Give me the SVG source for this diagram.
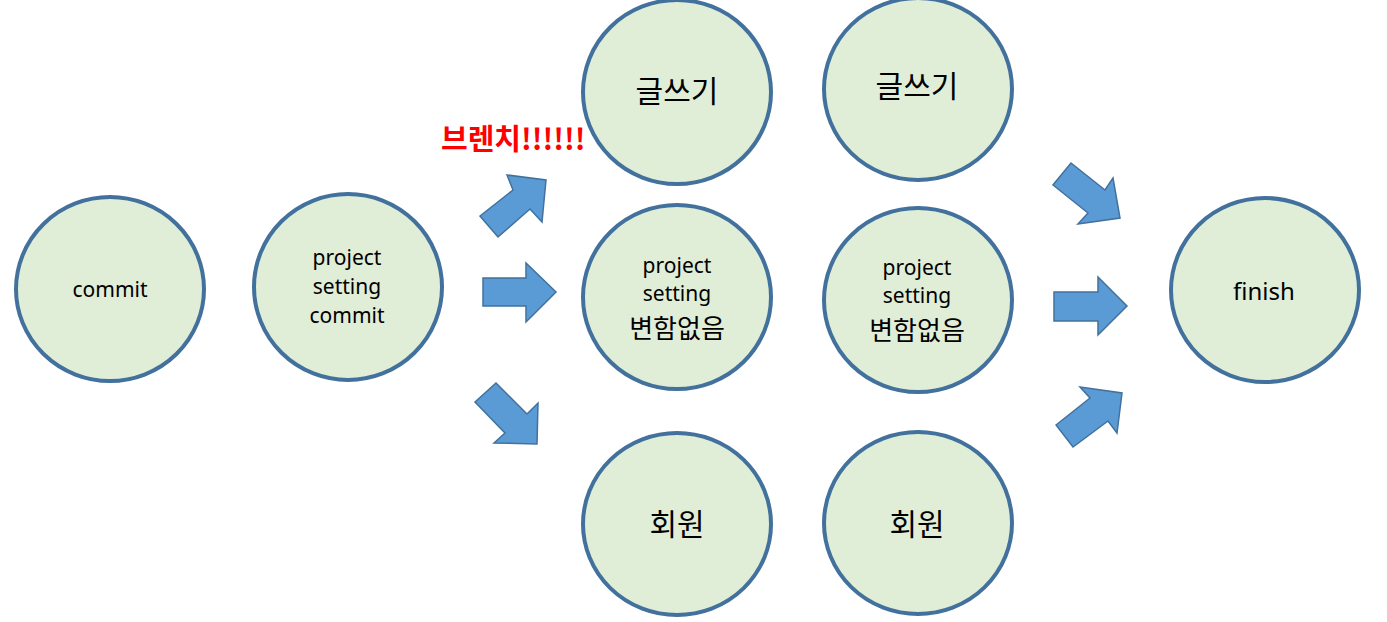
<svg xmlns="http://www.w3.org/2000/svg" width="1387" height="622" viewBox="0 0 1387 622">
<style>
.n{fill:#e0edd7;stroke:#41719c;stroke-width:4}
.t{font-family:"Noto Sans","Noto Sans CJK KR",sans-serif;font-size:21px;fill:#000;text-anchor:middle}
.k{font-family:"Noto Sans CJK KR","Noto Sans",sans-serif;font-size:30px;fill:#000;text-anchor:middle}
.k2{font-family:"Noto Sans CJK KR","Noto Sans",sans-serif;font-size:26px;fill:#000;text-anchor:middle}
.a{fill:#5b9bd5;stroke:#41719c;stroke-width:1.5;stroke-linejoin:miter}
.r{font-family:"Noto Sans CJK KR","Noto Sans",sans-serif;font-size:29px;font-weight:bold;fill:#ff0000}
</style>
<rect width="1387" height="622" fill="#ffffff"/>
<g id="connectors">
<polygon class="a" points="480,216 513,190 507,175 546,180 542,222 530,209 498,237"/>
<polygon class="a" points="483,278 526,278 526,263 556,292 526,322 526,306 483,306"/>
<polygon class="a" points="496,383 527,414 538,403 537,444 494,443 505,433 475,402"/>
<polygon class="a" points="1071,163 1105,190 1113,178 1120,218 1078,224 1088,213 1053,185"/>
<polygon class="a" points="1054,292 1098,292 1098,277 1127,306 1098,335 1098,321 1054,321"/>
<polygon class="a" points="1056,425 1090,398 1080,387 1122,393 1117,433 1108,421 1073,447"/>
</g>
<g id="label-branch"><text class="r" x="441" y="150">브렌치!!!!!!</text></g>
<g id="n-commit"><ellipse class="n" cx="110" cy="289" rx="94" ry="92"/><text class="t" x="110" y="297">commit</text></g>
<g id="n-psc"><ellipse class="n" cx="348" cy="287" rx="94" ry="93"/><text class="t" x="347" y="265">project</text><text class="t" x="347" y="294">setting</text><text class="t" x="347" y="323">commit</text></g>
<g id="n-write1"><ellipse class="n" cx="677" cy="92" rx="94" ry="92"/><text class="k" x="677" y="102">글쓰기</text></g>
<g id="n-ps1"><ellipse class="n" cx="677" cy="297" rx="94" ry="92"/><text class="t" x="677" y="273">project</text><text class="t" x="677" y="301">setting</text><text class="k2" x="677" y="338">변함없음</text></g>
<g id="n-member1"><ellipse class="n" cx="677" cy="524" rx="94" ry="91"/><text class="k" x="677" y="535">회원</text></g>
<g id="n-write2"><ellipse class="n" cx="918" cy="89" rx="94" ry="91"/><text class="k" x="917" y="97">글쓰기</text></g>
<g id="n-ps2"><ellipse class="n" cx="918" cy="300" rx="94" ry="92"/><text class="t" x="917" y="275">project</text><text class="t" x="917" y="303">setting</text><text class="k2" x="917" y="340">변함없음</text></g>
<g id="n-member2"><ellipse class="n" cx="918" cy="523" rx="94" ry="91"/><text class="k" x="917" y="535">회원</text></g>
<g id="n-finish"><ellipse class="n" cx="1265" cy="290" rx="94" ry="92"/><text class="t" x="1264" y="300" style="font-size:24px">finish</text></g>
</svg>
